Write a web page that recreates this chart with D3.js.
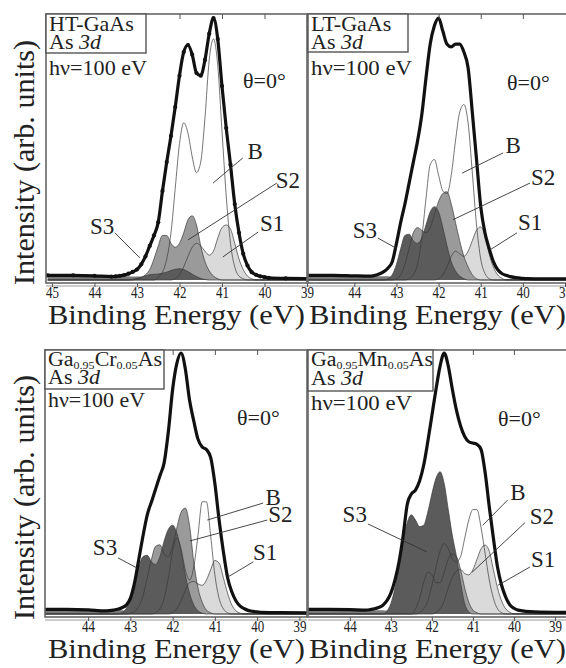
<!DOCTYPE html>
<html>
<head>
<meta charset="utf-8">
<script src="https://cdn.jsdelivr.net/npm/d3@7"></script>
<style>
body{margin:0;background:#fff}
svg{display:block}
</style>
</head>
<body>
<div id="chart"></div>
<script>
const SERIF = "'Liberation Serif', 'Times New Roman', Times, serif";

// binding energy grid (eV), shared by every curve
const energy = [45.1,44.5,44.0, 43.6,43.5,43.4,43.3,43.2,43.1,43.0, 42.9,42.8,42.7,42.6,42.5,42.4,42.3,42.2,42.1,42.0,
	41.9,41.8,41.7,41.6,41.5,41.4,41.3,41.2,41.1,41.0, 40.9,40.8,40.7,40.6,40.5,40.4,40.3,40.2,40.1,40.0, 39.9,39.5,38.7];

// flat background under the spectra
const bgLevel = [1.6,1.6,1.5, 1.5,1.5,1.4,1.4,1.4,1.3,1.3, 1.3,1.2,1.2,1.2,1.1,1.1,1.1,1,1,1,
	0.9,0.9,0.9,0.8,0.8,0.8,0.7,0.7,0.7,0.6, 0.6,0.5,0.5,0.5,0.4,0.4,0.4,0.4,0.3,0.3, 0.3,0.3,0.3];

// HT-GaAs
const htTotal = [1.8,1.8,1.6, 1.3,1.4,1.6,1.9,2.4,3.1,4, 6,9,13,17,22,34,45,55,66,78, 87,89.7,86,79,78,84,94,100,92,74, 58,44,29,18,10,5.5,3,2,1.4,1.1, 0.8,0.6,0.5];
const htB  = [0,0,0, 0,0,0,0,0,0,0, 0,0,0,0,1,3,8,18,35,52, 60,56,47,41,45,62,84,92,82,57, 32,14,5,1.5,0.5,0,0,0,0,0, 0,0,0];
const htS1 = [0,0,0, 0,0,0,0,0,0,0, 0,0,0,0,0,0,0,0,0.5,2, 5,9,12.5,14,13,11,9.5,11,16,20, 21,19.5,14,8,4,1.5,0.5,0,0,0, 0,0,0];
const htS2 = [0,0,0, 0,0,0,0,0,0,0.5, 1,2,4,8,13,17,17,14,12.5,14, 18,23,24.5,21,13,7,3.5,1.5,0.5,0, 0,0,0,0,0,0,0,0,0,0, 0,0,0];
const htS3 = [0,0,0, 0,0,0,0,0,0.3,0.6, 1,1.5,2,2.2,2.3,2.6,3,3.6,4.1,4.3, 4,3.2,2.2,1.3,0.6,0.2,0,0,0,0, 0,0,0,0,0,0,0,0,0,0, 0,0,0];

// LT-GaAs
const ltTotal = [1.8,1.8,1.6, 1.5,1.8,2.4,3.2,4.6,7,14, 22,29,37,45,53,63,77,90,97,100, 95,90,89,90,90,87,81,64,46,28, 18,12,7,4,2.5,1.8,1.3,1,0.8,0.6, 0.5,0.4,0.4];
const ltB  = [0,0,0, 0,0,0,0,0,0,0, 0,0,0.5,2,6,16,31,44,46,40, 34,33,40,53,64,67,60,41,21,8, 2.5,0.5,0,0,0,0,0,0,0,0, 0,0,0];
const ltS1 = [0,0,0, 0,0,0,0,0,0,0, 0,0,0,0,0,0,0,0,0,0.5, 2,5,9,11,10,9,11,15,19,20.3, 17,10,5,2,0.7,0,0,0,0,0, 0,0,0];
const ltS2 = [0,0,0, 0,0,0,0,0,0,0.5, 2,6,12,18,20,19,18,20,25,30, 33,33.7,29,22,15,9,5,2,0.5,0, 0,0,0,0,0,0,0,0,0,0, 0,0,0];
const ltS3 = [0,0,0, 0,0,0,0,0.5,2,6, 12,17,17.5,15,14,16,21,26,28,26, 20,13,7,3.5,1.5,0.5,0,0,0,0, 0,0,0,0,0,0,0,0,0,0, 0,0,0];

// Ga0.95Cr0.05As
const crTotal = [1.8,1.8,1.6, 1.2,1.3,1.5,1.8,2.4,3.4,6, 12,21,30,38,43,48,53,58,70,86, 96,100,94,82,74,67,64,63,60,50, 36,24,14,8.5,5,3,2,1.3,1,0.8, 0.6,0.5,0.4];
const crB  = [0,0,0, 0,0,0,0,0,0,0, 0,0,0,0,0,0.5,2,6,14,24, 29,25,17,13,18,30,43,43,30,15, 6,2,0.5,0,0,0,0,0,0,0, 0,0,0];
const crS1 = [0,0,0, 0,0,0,0,0,0,0, 0,0,0,0,0,0,0,0,0,0.5, 2,5,9,12,12.5,11.5,11,13,17,20.5, 19.5,14,8,3.5,1.2,0.3,0,0,0,0, 0,0,0];
const crS2 = [0,0,0, 0,0,0,0,0,0,0.3, 1,3,7,14,21,26,26.5,23,22,26, 33,39,40.6,34,20,10,4.5,1.5,0.5,0, 0,0,0,0,0,0,0,0,0,0, 0,0,0];
const crS3 = [0,0,0, 0,0,0,0,0.5,2,6, 12,18,22,22.5,20,19,22,28,32.5,34, 31,24,15,8,3.5,1.2,0.3,0,0,0, 0,0,0,0,0,0,0,0,0,0, 0,0,0];

// Ga0.95Mn0.05As
const mnTotal = [1.8,1.8,1.7, 1.5,1.7,2,2.5,3.3,5,8, 13,20,30,42,46,47.5,51,57,66,76, 86,95,100,95,86,78,72,68,66,65.5, 65,63,54,41,29,18,11,6.5,3.5,2.2, 1.5,0.8,0.6];
const mnB  = [0,0,0, 0,0,0,0,0,0,0, 0,0,0,0,0,0,0.5,2,5,11, 18,24,27,25,21,20,22,29,36,40, 40,33,23,13,6,2,0.5,0,0,0, 0,0,0];
const mnS1 = [0,0,0, 0,0,0,0,0,0,0, 0,0,0,0,0,0,0,0,0,0, 0.5,2,5,10,14,16.5,17,15.5,15,17, 21,25,26.4,24,17,10,5,2,0.7,0, 0,0,0];
const mnS2 = [0,0,0, 0,0,0,0,0,0,0, 0,0,0,0,0,2,6,12,16,15, 12,12,16,21,23,22,17,10,4.5,1.5, 0.5,0,0,0,0,0,0,0,0,0, 0,0,0];
const mnS3 = [0,0,0, 0,0,0,0,0,1,4, 10,18,28,35,38,36,33.5,34,39,46, 52,54.5,50,40,30,22,12,4,0.8,0, 0,0,0,0,0,0,0,0,0,0, 0,0,0];

// component labels: [text, textE, textI, leaderFromE, leaderFromI, leaderToE, leaderToI]
const htNotes = [["B",40.22,48.9,40.51,46.6,41.21,37],["S2",39.45,38,39.71,37,41.8,15.3],["S1",39.82,21.4,40.15,18.3,40.98,8.8],["S3",43.82,20.6,43.52,18,42.93,8.4]];
const ltNotes = [["B",40.23,51.5,40.47,48.5,41.44,40.8],["S2",39.52,39,39.83,37,41.66,23],["S1",39.83,21.8,40.14,18,40.78,11.5],["S3",43.75,19,43.44,16,42.99,12]];
const crNotes = [["B",39.62,44.8,39.86,42.5,41.18,36],["S2",39.45,38.3,39.76,36,41.59,28],["S1",39.81,23.4,40.09,20,40.71,14],["S3",43.6,25.3,43.29,21.5,42.84,17.6]];
const mnNotes = [["B",39.9,46.4,40.15,43.7,40.76,34],["S2",39.32,37.5,39.73,35,41.02,16],["S1",39.29,20.7,39.61,18,40.39,11],["S3",43.88,38,43.56,34.5,42.12,23.8]];

const topTicks = [45,44,43,42,41,40,39];
const otherTicks = [44,43,42,41,40,39];

const comps = [
	{key:"B", fill:"#ffffff"},
	{key:"S1", fill:"#dadada"},
	{key:"S2", fill:"#9a9a9a"},
	{key:"S3", fill:"#5b5b5b"}
];

const panels = [
	{id:"ht", title:[["HT-GaAs",""]], total:htTotal, B:htB, S1:htS1, S2:htS2, S3:htS3, notes:htNotes, dots:true,
	 lay:{left:46, right:307, top:14, bottom:283, dom:[45.14,39.0], xr:[46,307], yr:[280,18], ticks:topTicks,
		boxW:100, boxH:39, l1:17, l2:35, hv:61, hvW:98, thX:197, thY:74, yLab:true, labX:48}},
	{id:"lt", title:[["LT-GaAs",""]], total:ltTotal, B:ltB, S1:ltS1, S2:ltS2, S3:ltS3, notes:ltNotes,
	 lay:{left:308, right:568, top:14, bottom:283, dom:[45.1,39.0], xr:[308,565], yr:[280,18], ticks:otherTicks,
		boxW:100, boxH:38, l1:17, l2:35, hv:61, hvW:101, thX:199, thY:76, yLab:false, labX:309}},
	{id:"cr", title:[["Ga",""],["0.95","sub"],["Cr",""],["0.05","sub"],["As",""]], titleW:114,
	 total:crTotal, B:crB, S1:crS1, S2:crS2, S3:crS3, notes:crNotes,
	 lay:{left:45, right:307, top:350, bottom:617, dom:[45.02,38.82], xr:[45,307], yr:[614,353], ticks:otherTicks,
		boxW:119, boxH:39, l1:16, l2:34, hv:57, hvW:97, thX:192, thY:75, yLab:true, labX:48}},
	{id:"mn", title:[["Ga",""],["0.95","sub"],["Mn",""],["0.05","sub"],["As",""]], titleW:122,
	 total:mnTotal, B:mnB, S1:mnS1, S2:mnS2, S3:mnS3, notes:mnNotes,
	 lay:{left:308, right:568, top:350, bottom:617, dom:[45.02,38.73], xr:[308,566], yr:[614,353], ticks:otherTicks,
		boxW:125, boxH:41, l1:16, l2:35, hv:60, hvW:101, thX:190, thY:76, yLab:false, labX:309}}
];

const svg = d3.select("#chart").append("svg")
	.attr("width", 566)
	.attr("height", 668)
	.attr("font-family", SERIF);

function drawPanel(p){
	var L = p.lay;
	var x = d3.scaleLinear().domain(L.dom).range(L.xr);
	var y = d3.scaleLinear().domain([0,100]).range(L.yr);
	var g = svg.append("g");

	svg.append("clipPath").attr("id","clip-"+p.id)
		.append("rect")
		.attr("x",L.left).attr("y",L.top)
		.attr("width",L.right-L.left).attr("height",L.bottom-L.top);
	var plot = g.append("g").attr("clip-path","url(#clip-"+p.id+")");

	var area = d3.area()
		.x(function(d,i){return x(energy[i]);})
		.y0(y(0))
		.y1(function(d){return y(d);})
		.curve(d3.curveMonotoneX);
	var line = d3.line()
		.x(function(d,i){return x(energy[i]);})
		.y(function(d){return y(d);})
		.curve(d3.curveMonotoneX);

	plot.append("path").attr("d",area(bgLevel)).attr("fill","#7a7a7a");
	// filled components, then all outlines on top so the hidden edges show through
	comps.forEach(function(c){
		plot.append("path").attr("d",area(p[c.key])).attr("fill",c.fill);
	});
	comps.forEach(function(c){
		plot.append("path").attr("d",line(p[c.key]))
			.attr("fill","none").attr("stroke","#3a3a3a").attr("stroke-width",0.7);
	});
	plot.append("path").attr("d",line(p.total))
		.attr("fill","none").attr("stroke","#111").attr("stroke-width",3.2)
		.attr("stroke-linejoin","round");
	if(p.dots){
		plot.selectAll("circle.pt").data(p.total).enter().append("circle")
			.attr("cx",function(d,i){return x(energy[i]);})
			.attr("cy",function(d){return y(d);})
			.attr("r",2.1).attr("fill","#111");
	}

	// frame
	g.append("rect")
		.attr("x",L.left).attr("y",L.top)
		.attr("width",L.right-L.left).attr("height",L.bottom-L.top)
		.attr("fill","none").attr("stroke","#666").attr("stroke-width",1.6);
	g.append("line")
		.attr("x1",L.left).attr("x2",L.right)
		.attr("y1",L.bottom+3).attr("y2",L.bottom+3)
		.attr("stroke","#999").attr("stroke-width",1);

	// bottom axis with labels
	var ax = g.append("g")
		.attr("transform","translate(0,"+L.bottom+")")
		.call(d3.axisBottom(x).tickValues(L.ticks).tickSize(4).tickFormat(d3.format("d")));
	ax.attr("font-family",SERIF);
	ax.select(".domain").remove();
	ax.selectAll("line").attr("stroke","#555");
	ax.selectAll("text")
		.attr("font-size",16).attr("fill","#333")
		.attr("textLength",13).attr("lengthAdjust","spacingAndGlyphs")
		.attr("y",4);
	// inner ticks on top
	var axT = g.append("g")
		.attr("transform","translate(0,"+L.top+")")
		.call(d3.axisTop(x).tickValues(L.ticks.filter(function(t){return t<=44 && t>=40;})).tickSize(-5).tickFormat(""));
	axT.select(".domain").remove();
	axT.selectAll("line").attr("stroke","#555");

	// x label
	g.append("text")
		.attr("x",L.labX).attr("y",L.bottom+41)
		.attr("font-size",28)
		.attr("textLength",257).attr("lengthAdjust","spacingAndGlyphs")
		.text("Binding Energy (eV)");

	// y label
	if(L.yLab){
		g.append("text")
			.attr("transform","translate(34,"+((L.top+L.bottom)/2+14)+") rotate(-90)")
			.attr("text-anchor","middle")
			.attr("font-size",30)
			.attr("textLength",245).attr("lengthAdjust","spacingAndGlyphs")
			.text("Intensity (arb. units)");
	}

	// sample box
	g.append("rect")
		.attr("x",L.left).attr("y",L.top)
		.attr("width",L.boxW).attr("height",L.boxH)
		.attr("fill","#fff").attr("stroke","#555").attr("stroke-width",1.4);
	var t1 = g.append("text").attr("x",L.left+3).attr("y",L.top+L.l1).attr("font-size",22);
	p.title.forEach(function(part, k){
		var ts = t1.append("tspan").text(part[0]);
		if(part[1]=="sub") ts.attr("font-size",11).attr("dy",3);
		else if(k>0) ts.attr("dy",-3);
	});
	if(p.titleW) t1.attr("textLength",p.titleW).attr("lengthAdjust","spacingAndGlyphs").attr("font-size",20);
	var t2 = g.append("text").attr("x",L.left+3).attr("y",L.top+L.l2).attr("font-size",22);
	t2.append("tspan").text("As ");
	t2.append("tspan").attr("font-style","italic").text("3d");
	g.append("text").attr("x",L.left+3).attr("y",L.top+L.hv)
		.attr("font-size",22)
		.attr("textLength",L.hvW).attr("lengthAdjust","spacingAndGlyphs")
		.text("h\u03bd=100 eV");
	g.append("text").attr("x",L.left+L.thX).attr("y",L.top+L.thY)
		.attr("font-size",22)
		.text("\u03b8=0\u00b0");

	// component labels with leader lines
	p.notes.forEach(function(n){
		g.append("line")
			.attr("x1",x(n[3])).attr("y1",y(n[4]))
			.attr("x2",x(n[5])).attr("y2",y(n[6]))
			.attr("stroke","#333").attr("stroke-width",0.9);
		g.append("text")
			.attr("x",x(n[1])).attr("y",y(n[2]))
			.attr("text-anchor","middle").attr("dominant-baseline","central")
			.attr("font-size",23)
			.text(n[0]);
	});
}

panels.forEach(drawPanel);
svg.selectAll("text").style("font-family", SERIF).style("fill", "#222");
</script>
</body>
</html>
